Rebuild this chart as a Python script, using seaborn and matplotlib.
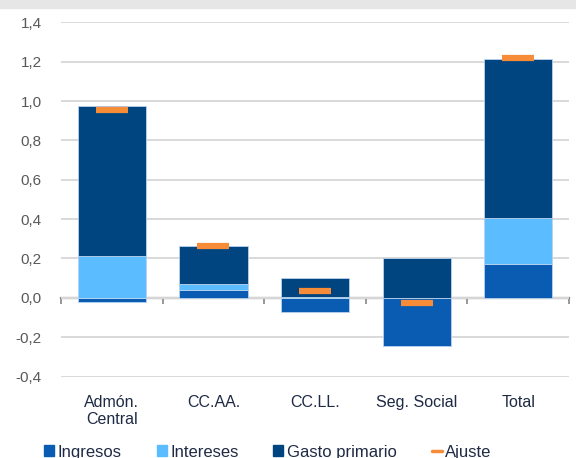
import numpy as np
import matplotlib
matplotlib.use("Agg")
import matplotlib.pyplot as plt
import seaborn as sns
from matplotlib.lines import Line2D
from matplotlib.patches import Patch, Rectangle
from matplotlib.ticker import FuncFormatter, FixedLocator

# Data
categories = ["Admón.\nCentral", "CC.AA.", "CC.LL.", "Seg. Social", "Total"]
ingresos = [-0.02, 0.04, -0.07, -0.243, 0.17]
intereses = [0.213, 0.031, 0.005, 0.0, 0.235]
gasto_primario = [0.762, 0.194, 0.095, 0.203, 0.81]
ajuste = [0.955, 0.264, 0.035, -0.025, 1.22]

series = [("Ingresos", ingresos, "#0a5cb2"),
          ("Intereses", intereses, "#5bbdff"),
          ("Gasto primario", gasto_primario, "#00457f")]
ajuste_color = "#f68b38"
text_color = "#1f2a44"

sns.set_theme(style="white")
plt.rcParams["font.family"] = ["Liberation Sans", "DejaVu Sans"]

fig = plt.figure(figsize=(5.76, 4.58), dpi=100)
ax = fig.add_axes([0.106, 0.177, 0.882, 0.775])

# gray strip at the top
fig.patches.append(Rectangle((0, 0.983), 1, 0.017, transform=fig.transFigure,
                             color="#e6e6e6", zorder=0))

pos_base = np.zeros(len(categories))
neg_base = np.zeros(len(categories))
for name, vals, color in series:
    vals = np.array(vals)
    bottoms = np.where(vals >= 0, pos_base, neg_base)
    sns.barplot(x=categories, y=vals, bottom=bottoms, color=color, width=0.67,
                edgecolor="#b8d3ee", linewidth=0.6, saturation=1, ax=ax, zorder=3)
    pos_base = pos_base + np.where(vals >= 0, vals, 0)
    neg_base = neg_base + np.where(vals < 0, vals, 0)

ax.plot(np.arange(len(categories)), ajuste, ls="none", marker="_", ms=23, mew=4.5,
        color=ajuste_color, zorder=5)

ax.set_xlim(-0.5, 4.5)
ax.set_ylim(-0.402, 1.402)
ax.yaxis.set_major_locator(FixedLocator(np.round(np.arange(-0.4, 1.41, 0.2), 1)))
ax.yaxis.set_major_formatter(FuncFormatter(lambda v, p: f"{v:.1f}".replace(".", ",")))
ax.grid(axis="y", color="#d9d9d9", lw=1.4, zorder=0)
ax.grid(axis="x", visible=False)
ax.set_axisbelow(True)
for s in ax.spines.values():
    s.set_visible(False)
ax.set_xlabel("")
ax.set_ylabel("")
ax.tick_params(axis="y", length=0, pad=14, labelsize=11, labelcolor="#595959")
ax.tick_params(axis="x", length=0, pad=13, labelsize=11.5, labelcolor=text_color)

# zero line with category boundary ticks
zero = ax.secondary_xaxis(0.4 / 1.804)
zero.spines["bottom"].set_color("#868686")
zero.spines["bottom"].set_linewidth(1.6)
zero.set_xticks(np.arange(-0.5, 4.6, 1.0))
zero.tick_params(axis="x", length=4, width=1.2, color="#868686", labelbottom=False)

handles = [Patch(color=c, label=n) for n, _, c in series]
handles.append(Line2D([], [], color=ajuste_color, lw=2.5, label="Ajuste"))
fig.legend(handles=handles, loc="center", bbox_to_anchor=(0.465, 0.013), ncol=4,
           frameon=False, fontsize=12, handlelength=0.6, handleheight=0.6,
           handletextpad=0.2, columnspacing=2.1, labelcolor=text_color)

fig.savefig("out.png", dpi=100)
